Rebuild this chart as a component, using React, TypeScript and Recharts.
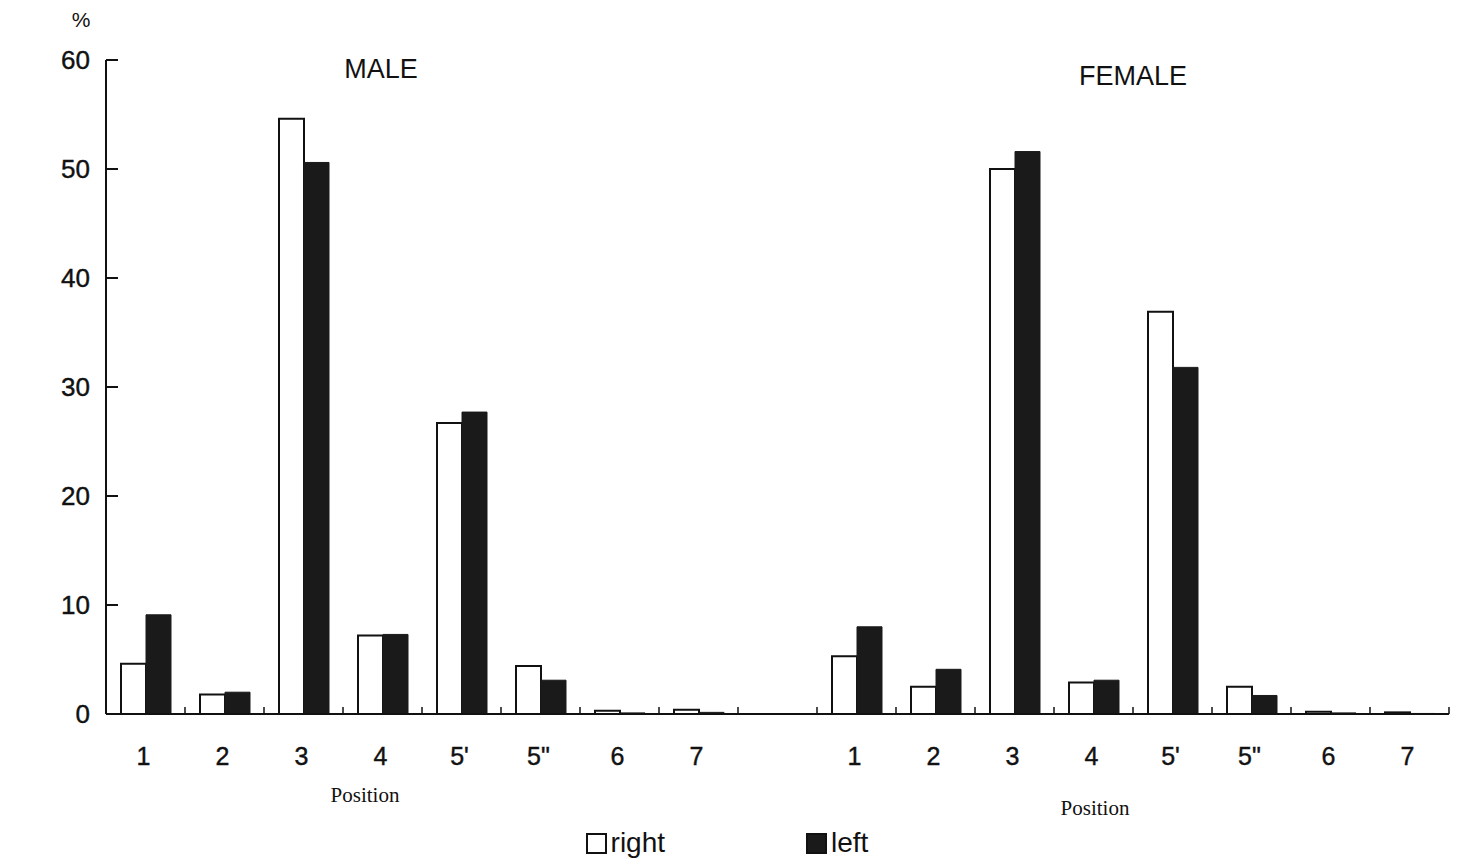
import { BarChart, Bar, XAxis, YAxis, Legend } from "recharts";

const positions = ["1", "2", "3", "4", "5'", '5"', "6", "7"];
const maleRight = [4.6, 1.8, 54.6, 7.2, 26.7, 4.4, 0.3, 0.4];
const maleLeft = [9.1, 2.0, 50.6, 7.3, 27.7, 3.1, 0.1, 0.15];
const femaleRight = [5.3, 2.5, 50.0, 2.9, 36.9, 2.5, 0.2, 0.15];
const femaleLeft = [8.0, 4.1, 51.6, 3.1, 31.8, 1.7, 0.1, 0.05];
const yTicks = [0, 10, 20, 30, 40, 50, 60];

// one empty slot between the two groups
const data = [
  ...positions.map((p, i) => ({ key: `m${i}`, label: p, right: maleRight[i], left: maleLeft[i] })),
  { key: "gap", label: "", right: null, left: null },
  ...positions.map((p, i) => ({ key: `f${i}`, label: p, right: femaleRight[i], left: femaleLeft[i] })),
];

const sans = "'Liberation Sans', Arial, sans-serif";
const serif = "'Liberation Serif', 'Times New Roman', serif";

function XTick(props: any) {
  const { x, y, payload } = props;
  const row = data.find((d) => d.key === payload.value);
  return (
    <g>
      <line x1={x + 39.5} x2={x + 39.5} y1={y - 51} y2={y - 58} stroke="#111" strokeWidth={1.5} />
      <text x={x - 2} y={y} textAnchor="middle" fontFamily={sans} fontSize={25} fill="#111" stroke="#111" strokeWidth={0.4}>
        {row ? row.label : ""}
      </text>
    </g>
  );
}

function YTick(props: any) {
  const { x, y, payload } = props;
  return (
    <g>
      <line x1={x + 16} x2={x + 28} y1={y} y2={y} stroke="#111" strokeWidth={2} />
      <text x={x} y={y} dy={9} textAnchor="end" fontFamily={sans} fontSize={26} fill="#111" stroke="#111" strokeWidth={0.4}>
        {payload.value}
      </text>
    </g>
  );
}

function LegendBox() {
  const item = (fill: string, text: string) => (
    <div style={{ display: "flex", alignItems: "center", gap: 4 }}>
      <span style={{ width: 17, height: 17, border: "2px solid #111", background: fill, display: "inline-block" }} />
      <span>{text}</span>
    </div>
  );
  return (
    <div style={{ display: "flex", justifyContent: "center", gap: 141, fontFamily: sans, fontSize: 28, color: "#111", paddingRight: 31 }}>
      {item("#fff", "right")}
      {item("#1a1a1a", "left")}
    </div>
  );
}

const overlay = (style: any, text: string, font = sans, size = 24) => (
  <div
    style={{
      position: "absolute",
      transform: "translate(-50%, -50%)",
      fontFamily: font,
      fontSize: size,
      color: "#111",
      whiteSpace: "nowrap",
      ...style,
    }}
  >
    {text}
  </div>
);

export default function App() {
  return (
    <div style={{ position: "absolute", left: 0, top: 0, width: 1457, height: 864, background: "#fff" }}>
      <BarChart
        width={1457}
        height={864}
        data={data}
        margin={{ top: 60, right: 8, bottom: 5, left: 36 }}
        barGap={0}
        barSize={25}
      >
        <XAxis
          dataKey="key"
          interval={0}
          tick={<XTick />}
          tickLine={false}
          tickSize={0}
          tickMargin={51}
          height={113}
          axisLine={{ stroke: "#111", strokeWidth: 2 }}
        />
        <YAxis
          domain={[0, 60]}
          ticks={yTicks}
          tick={<YTick />}
          tickLine={false}
          tickSize={0}
          tickMargin={16}
          width={70}
          axisLine={{ stroke: "#111", strokeWidth: 2 }}
        />
        <Legend verticalAlign="bottom" content={() => <LegendBox />} />
        <Bar dataKey="right" name="right" fill="#fff" stroke="#111" strokeWidth={2} isAnimationActive={false} />
        <Bar dataKey="left" name="left" fill="#1a1a1a" stroke="#1a1a1a" strokeWidth={1} isAnimationActive={false} />
      </BarChart>
      {overlay({ left: 81, top: 20 }, "%", sans, 21)}
      {overlay({ left: 381, top: 69 }, "MALE", sans, 27)}
      {overlay({ left: 1133, top: 76 }, "FEMALE", sans, 27)}
      {overlay({ left: 365, top: 795 }, "Position", serif, 21)}
      {overlay({ left: 1095, top: 808 }, "Position", serif, 21)}
    </div>
  );
}
